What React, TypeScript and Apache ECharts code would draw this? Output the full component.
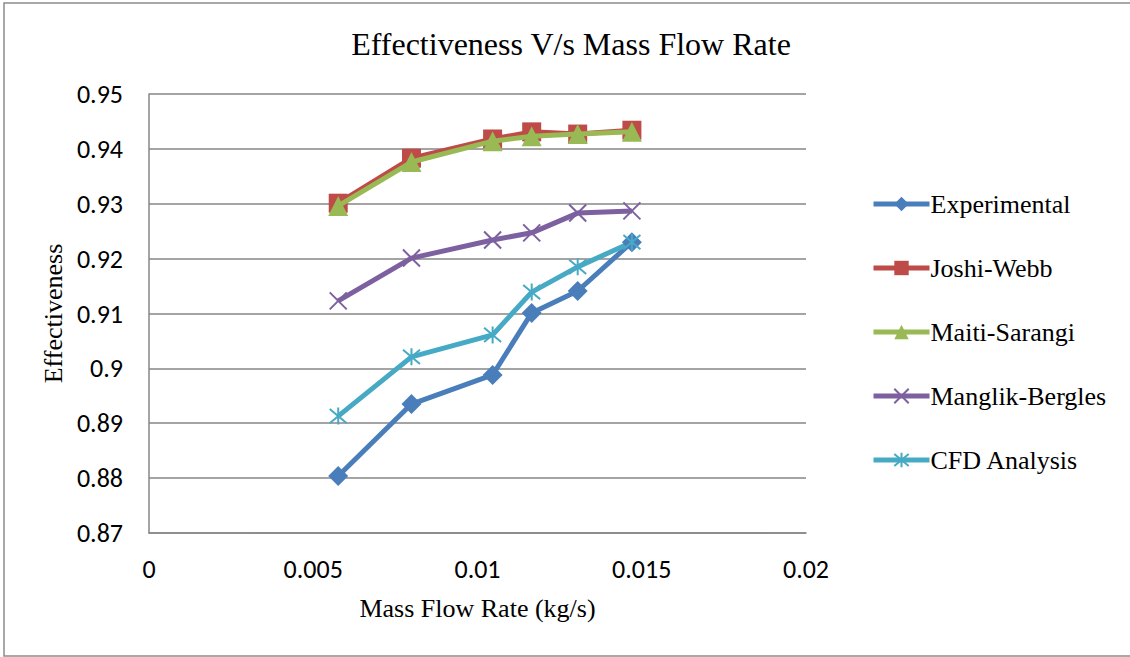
import React, { useEffect, useRef } from "react";
import * as echarts from "echarts";

const massFlow = [0.00576, 0.00799, 0.01046, 0.01165, 0.01305, 0.0147];
const experimental = [0.8804, 0.8935, 0.8988, 0.9101, 0.9141, 0.923];
const joshiWebb = [0.9301, 0.9383, 0.9418, 0.9431, 0.9427, 0.9434];
const maitiSarangi = [0.9296, 0.9376, 0.9414, 0.9423, 0.9427, 0.9431];
const manglikBergles = [0.9123, 0.9201, 0.9234, 0.9247, 0.9283, 0.9287];
const cfdAnalysis = [0.8913, 0.9021, 0.9061, 0.9139, 0.9185, 0.923];

const seriesNames = ["Experimental", "Joshi-Webb", "Maiti-Sarangi", "Manglik-Bergles", "CFD Analysis"];
const seriesData = [experimental, joshiWebb, maitiSarangi, manglikBergles, cfdAnalysis];
const colors = ["#4A7EBB", "#BE4B48", "#98B954", "#7D60A0", "#46AAC5"];

const xMark = "path://M0,0L10,10M10,0L0,10";
const starMark = "path://M0,0L10,10M10,0L0,10M5,-1L5,11";
const symbols = ["diamond", "rect", "triangle", xMark, starMark];
const symbolSizes = [20, 19, 20, 17, 17];

export default function App() {
  const ref = useRef<HTMLDivElement>(null);
  useEffect(() => {
    if (!ref.current) return;
    const chart = echarts.init(ref.current, null, { renderer: "svg" });
    const serif = "'Liberation Serif', 'Times New Roman', serif";
    const sans = "Carlito, 'Liberation Sans', 'Open Sans', sans-serif";
    chart.setOption({
      animation: false,
      backgroundColor: "#ffffff",
      title: {
        text: "Effectiveness V/s Mass Flow Rate",
        left: 566,
        textAlign: "center",
        top: 23,
        textStyle: { fontFamily: serif, fontSize: 32, fontWeight: "normal", color: "#000" },
      },
      graphic: [
        {
          type: "rect",
          shape: { x: 4, y: 3, width: 1130, height: 653 },
          style: { fill: "none", stroke: "#8c8c8c", lineWidth: 1.5 },
          silent: true,
        },
      ],
      legend: {
        orient: "vertical",
        left: 866,
        top: 186,
        itemWidth: 56,
        itemHeight: 18,
        itemGap: 38,
        lineStyle: { width: 5 },
        textStyle: { fontFamily: serif, fontSize: 26, color: "#000", padding: [0, 0, 0, -4] },
        data: seriesNames,
      },
      grid: { left: 149, right: 1130 - 806, top: 94, bottom: 657 - 533, containLabel: false },
      xAxis: {
        type: "value",
        min: 0,
        max: 0.02,
        interval: 0.005,
        name: "Mass Flow Rate (kg/s)",
        nameLocation: "middle",
        nameGap: 62,
        nameTextStyle: { fontFamily: serif, fontSize: 26, color: "#000" },
        axisLine: { show: true, lineStyle: { color: "#868686", width: 1.5 } },
        axisTick: { show: false },
        splitLine: { show: false },
        axisLabel: { fontFamily: sans, fontSize: 26, color: "#000", margin: 23 },
      },
      yAxis: {
        type: "value",
        min: 0.87,
        max: 0.95,
        interval: 0.01,
        name: "Effectiveness",
        nameLocation: "middle",
        nameGap: 82,
        nameTextStyle: { fontFamily: serif, fontSize: 26, color: "#000" },
        axisLine: { show: true, lineStyle: { color: "#868686", width: 1.5 } },
        axisTick: { show: false },
        splitLine: { show: true, lineStyle: { color: "#868686", width: 1.5 } },
        axisLabel: {
          fontFamily: sans,
          fontSize: 26,
          color: "#000",
          margin: 26,
          formatter: (v: number) => String(parseFloat(v.toFixed(3))),
        },
      },
      series: seriesNames.map((name, i) => ({
        name,
        type: "line",
        data: massFlow.map((x, j) => [x, seriesData[i][j]]),
        symbol: symbols[i],
        symbolSize: symbolSizes[i],
        showAllSymbol: true,
        lineStyle: { color: colors[i], width: 5 },
        itemStyle: {
          color: colors[i],
          borderColor: colors[i],
          borderWidth: i >= 3 ? 2 : 0,
        },
        z: 2 + (i === 2 ? 1 : 0),
      })),
    });
    return () => chart.dispose();
  }, []);
  return (
    <div
      ref={ref}
      style={{ position: "absolute", left: 0, top: 0, width: 1130, height: 657 }}
    />
  );
}
